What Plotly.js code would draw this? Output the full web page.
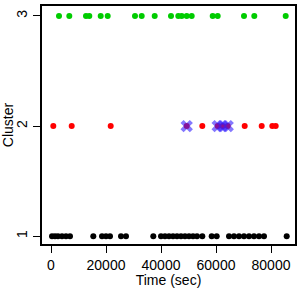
<!DOCTYPE html>
<html><head><meta charset="utf-8">
<script src="https://cdn.plot.ly/plotly-3.0.1.min.js"></script>
<style>html,body{margin:0;padding:0;background:#fff}#c{width:300px;height:288px}</style>
</head><body><div id="c"></div>
<script>
const cluster1Times = [364,1455,2545,4000,5455,6909,15382,18545,20000,21455,25455,27273,37200,40000,41455,42909,44364,45818,47273,48727,50182,51636,53091,55018,58436,60255,64727,66545,68364,70182,72000,73818,75636,77455,85709];
const cluster2Times = [836,7527,21709,49345,55018,60618,62436,64255,70436,76618,80473,81709];
const cluster3Times = [2909,6655,12727,13927,18073,20618,30545,32982,37709,43636,46291,47527,49345,51164,58800,60618,70182,73927,85345];
const highlightTimes = [49345,60618,62436,64255];
const highlightCluster = 2;
const xTicks = [0,20000,40000,60000,80000];
const xTickText = ["0","20000","40000","60000","80000"];
const yTicks = [1,2,3];

const font = {family:"Liberation Sans, Arial, sans-serif", size:14, color:"#000"};
const traces = [
  {x:cluster1Times, y:cluster1Times.map(()=>1), mode:"markers", type:"scatter", marker:{color:"#000", size:6}},
  {x:cluster2Times, y:cluster2Times.map(()=>2), mode:"markers", type:"scatter", marker:{color:"#ff0000", size:6}},
  {x:cluster3Times, y:cluster3Times.map(()=>3), mode:"markers", type:"scatter", marker:{color:"#00cc00", size:6}},
  {x:highlightTimes, y:highlightTimes.map(()=>highlightCluster), mode:"markers", type:"scatter",
   marker:{symbol:"x", color:"rgba(50,30,255,0.6)", size:11, line:{width:0}}}
];
const layout = {
  width:300, height:288, showlegend:false,
  margin:{l:42, r:5, t:6, b:44},
  paper_bgcolor:"#fff", plot_bgcolor:"#fff", font:font,
  xaxis:{range:[-3273,88727], tickvals:xTicks, ticktext:xTickText, ticks:"outside", ticklen:7, tickwidth:1, tickcolor:"#000",
    showline:true, linewidth:2, linecolor:"#000", mirror:true, showgrid:false, zeroline:false,
    title:{text:"Time (sec)", font:font, standoff:4}, tickfont:font},
  yaxis:{range:[0.93,3.09], tickvals:yTicks, ticks:"outside", ticklen:7, tickwidth:1, tickcolor:"#000", tickangle:-90,
    showline:true, linewidth:2, linecolor:"#000", mirror:true, showgrid:false, zeroline:false,
    title:{text:"Cluster", font:font, standoff:4}, tickfont:font}
};
Plotly.newPlot("c", traces, layout, {staticPlot:true, displayModeBar:false});
</script></body></html>
